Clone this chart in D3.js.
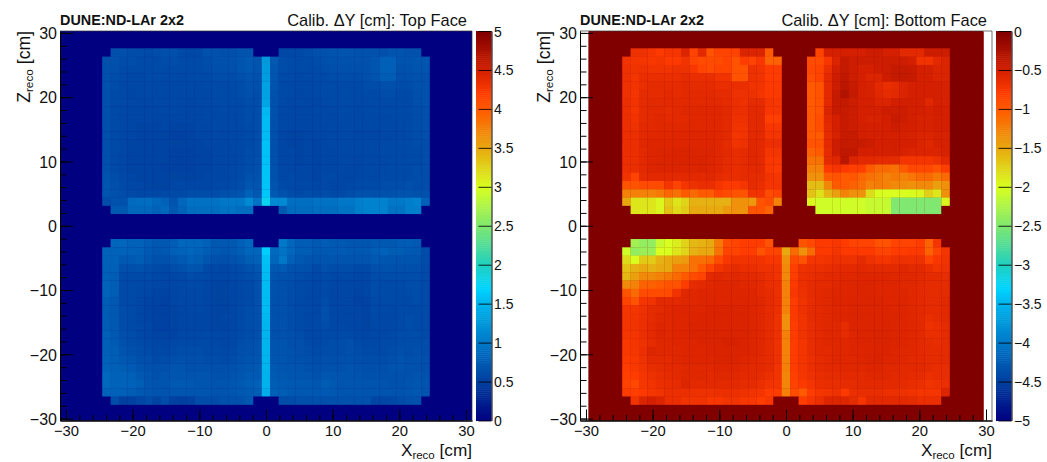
<!DOCTYPE html>
<html><head><meta charset="utf-8">
<script src="https://cdn.jsdelivr.net/npm/d3@7"></script>
<style>html,body{margin:0;padding:0;background:#fff}svg{display:block}text{font-family:"Liberation Sans",Arial,sans-serif;fill:#111}</style>
</head><body><svg id="c" width="1047" height="462"></svg>
<script>
// Cell values in 0.01 cm. Each row: columns 4..42 of the 47 x bins (0 = empty bin). Rows run from high Z to low Z.
const topFaceUpperRows = [
[0,64,64,62,62,60,62,64,64,60,58,60,66,66,64,64,68,68,0,0,0,58,58,60,62,64,66,68,68,68,66,66,66,64,68,68,66,66,0],
[66,66,62,62,60,60,60,62,62,60,60,60,62,66,66,66,68,72,68,128,72,62,60,60,60,62,64,66,66,66,66,66,70,78,78,68,68,70,70],
[66,64,60,60,60,60,60,60,60,60,60,60,62,64,64,64,68,72,68,130,70,62,60,60,60,60,62,64,64,64,64,66,70,78,78,66,66,68,68],
[66,62,60,58,58,60,60,60,60,58,60,60,60,62,62,62,64,68,66,132,70,60,60,58,60,60,60,62,62,62,62,64,68,76,76,64,64,66,66],
[66,62,58,58,58,58,58,58,58,58,58,58,60,60,60,60,62,66,64,135,68,60,58,58,58,58,60,60,60,60,60,62,62,64,64,62,62,66,66],
[66,60,58,56,58,58,58,58,58,58,58,58,58,60,60,60,62,64,62,135,66,60,58,56,58,58,60,60,60,60,60,60,60,62,62,60,60,64,66],
[66,60,58,56,56,56,58,58,58,58,56,58,58,60,60,60,60,62,62,138,66,60,56,58,56,56,58,60,60,60,60,60,60,60,60,60,60,64,66],
[66,60,58,56,56,56,56,58,58,56,56,56,58,58,60,58,60,62,62,152,66,58,56,56,56,58,58,58,60,60,58,60,60,60,60,60,60,62,64],
[66,60,56,56,56,56,56,56,56,56,56,56,58,58,58,58,60,62,62,155,64,58,56,56,56,56,58,58,60,58,58,58,58,58,58,60,60,62,64],
[66,60,56,56,54,54,54,56,54,54,54,56,56,58,58,58,58,60,62,155,64,58,56,56,56,56,56,58,58,58,58,58,58,58,58,58,60,62,64],
[64,60,56,56,54,54,54,54,52,52,54,56,56,58,56,58,58,60,62,155,64,56,54,54,56,56,56,58,58,58,56,56,56,58,58,58,60,62,64],
[64,60,56,54,54,54,54,54,54,54,54,54,56,56,56,58,58,60,62,158,64,56,54,54,56,54,56,58,58,58,58,58,58,58,60,60,60,62,62],
[64,60,56,54,54,54,54,54,52,52,52,54,54,56,56,56,58,62,62,158,64,56,56,54,56,54,56,56,58,58,58,58,58,60,60,60,60,60,62],
[66,60,56,54,54,54,54,54,52,52,52,54,54,56,56,56,58,62,64,158,64,56,56,54,56,54,56,56,58,58,56,58,58,58,60,60,60,60,62],
[66,60,56,54,54,54,54,52,52,52,52,54,54,56,56,58,60,62,64,160,66,58,56,56,56,54,56,56,58,56,56,58,58,58,60,60,60,62,62],
[68,62,58,56,54,54,54,54,54,54,54,54,56,56,56,58,60,66,66,160,66,58,58,56,56,54,58,58,56,56,58,58,58,60,60,60,60,62,62],
[70,64,60,58,56,54,54,54,56,58,56,56,56,58,58,60,62,70,68,160,68,60,58,58,58,56,58,56,56,58,60,60,60,62,62,62,64,62,62],
[70,66,62,60,58,58,58,60,60,60,62,62,62,62,64,66,68,80,72,162,72,66,62,60,62,60,62,60,60,62,66,66,64,66,66,68,68,66,66],
[62,66,66,88,90,90,85,80,68,85,95,95,95,95,100,100,100,115,95,178,115,115,92,92,92,95,95,95,100,100,106,108,108,108,100,100,105,108,80],
[0,72,72,85,85,85,80,85,72,80,90,90,90,90,95,95,90,90,0,0,0,72,88,88,88,90,90,90,95,95,105,108,108,108,95,95,105,105,0]
];
const topFaceLowerRows = [
[0,84,85,80,80,75,72,72,75,85,85,85,80,72,72,72,78,85,0,0,0,100,85,75,75,72,75,72,72,70,70,70,72,72,72,75,75,72,0],
[82,82,82,80,78,74,70,72,78,82,84,82,76,72,70,72,76,84,84,166,88,95,85,76,76,72,72,74,74,72,72,72,76,80,76,76,74,72,62],
[80,80,72,74,76,70,66,66,70,74,78,76,70,66,64,66,70,76,80,158,84,100,78,72,68,68,68,70,68,68,68,68,72,70,70,68,68,68,62],
[78,78,64,64,66,62,60,58,62,66,70,68,60,58,56,60,62,66,70,156,72,74,66,66,64,60,64,62,62,62,60,60,64,66,66,64,64,64,60],
[78,76,60,60,60,60,58,56,56,58,62,60,58,56,56,58,60,62,66,155,68,66,64,62,60,58,60,58,58,58,56,56,62,62,62,62,62,62,60],
[82,76,60,60,58,58,56,56,56,58,60,58,56,54,54,56,58,60,64,155,66,64,62,60,58,56,60,56,56,56,56,56,62,60,60,60,62,62,60],
[82,76,60,60,58,56,54,54,56,58,58,58,56,54,54,56,58,60,64,155,66,66,62,60,58,56,60,56,56,56,54,56,62,60,60,60,60,62,60],
[76,72,60,60,56,54,54,52,56,58,58,58,56,54,54,56,58,60,64,155,66,66,62,60,58,56,62,56,56,56,54,54,60,60,60,60,60,62,60],
[76,72,62,60,56,54,52,52,54,56,58,58,56,54,54,56,60,62,64,155,66,66,62,60,58,56,64,58,56,56,56,54,60,60,58,60,60,60,60],
[76,72,62,60,56,54,52,52,54,56,56,56,56,54,56,56,60,62,64,152,66,66,62,60,58,58,64,58,56,56,56,54,60,58,58,60,62,60,60],
[76,72,62,60,58,56,52,52,54,56,56,56,56,54,54,56,60,62,64,150,66,66,62,60,58,58,62,58,58,56,56,54,58,58,58,60,62,60,60],
[78,72,64,62,58,56,54,54,54,58,58,58,60,58,56,58,60,62,64,150,66,66,64,62,58,58,60,60,60,60,58,56,58,58,60,62,62,62,60],
[78,74,66,62,60,58,56,56,58,60,60,60,60,58,56,58,62,64,66,150,68,68,64,64,60,58,60,62,62,64,60,58,58,60,60,62,62,62,62],
[78,76,68,66,62,60,58,58,60,62,62,62,60,60,58,60,64,66,68,150,68,68,66,64,62,60,62,62,62,64,62,60,60,60,62,64,62,64,62],
[80,76,72,70,64,64,60,62,64,66,64,64,62,62,60,62,66,68,70,150,70,70,66,66,64,62,64,64,64,66,64,62,62,62,64,68,64,66,64],
[82,78,76,74,68,66,64,66,68,68,66,66,66,64,64,66,68,70,72,150,72,70,68,68,66,64,66,66,66,68,66,64,64,64,68,68,66,66,64],
[86,80,80,78,72,68,66,68,70,70,68,68,68,66,66,68,70,74,74,148,74,72,70,70,68,66,70,70,68,68,68,66,66,66,66,66,66,68,66],
[86,82,82,82,76,70,68,68,72,72,72,70,70,68,68,70,72,76,78,148,76,74,72,72,72,70,76,72,68,70,70,68,68,68,66,66,68,70,68],
[82,80,78,76,72,70,68,68,70,70,70,70,70,68,68,70,72,74,76,146,78,76,72,72,72,72,74,72,70,70,70,68,68,68,68,68,70,72,68],
[0,62,50,52,56,62,54,62,52,50,52,62,62,62,66,66,66,72,0,0,0,62,62,64,64,64,64,66,66,66,66,66,56,56,58,62,64,66,0]
];
const bottomFaceUpperRows = [
[0,68,68,72,78,72,72,55,85,60,95,85,85,85,55,55,55,100,0,0,0,0,0,85,50,50,50,50,50,45,45,50,50,60,60,60,45,45,45,0],
[70,72,72,75,72,78,78,70,85,90,90,90,85,95,80,85,75,105,105,0,0,0,90,90,75,55,40,45,45,45,45,45,45,45,50,70,70,60,55],
[68,70,68,70,70,70,68,68,75,85,90,85,85,95,95,68,70,80,80,0,0,0,88,85,65,48,40,45,50,50,45,45,40,40,42,50,50,55,55],
[68,72,65,65,65,65,65,62,65,65,65,70,70,95,95,68,70,80,80,0,0,0,92,85,60,45,38,45,50,55,55,45,40,40,42,50,50,55,55],
[68,70,65,62,62,62,62,60,62,62,62,65,65,65,65,70,70,78,78,0,0,0,100,95,60,45,35,42,50,52,60,65,62,55,50,50,50,50,52],
[68,72,62,62,62,60,62,60,60,60,60,62,62,68,68,68,72,78,78,0,0,0,100,95,60,42,30,40,50,52,58,62,60,55,50,50,50,50,52],
[66,70,62,60,60,60,60,60,60,60,60,60,62,66,68,62,62,72,75,0,0,0,100,95,60,42,40,45,50,50,55,55,48,48,48,50,58,50,52],
[66,72,62,60,60,62,60,58,58,58,58,58,60,66,66,60,60,75,75,0,0,0,100,95,55,42,42,45,50,50,50,45,45,45,48,48,52,48,50],
[66,70,62,60,58,60,60,60,58,58,58,58,60,68,68,60,60,82,82,0,0,0,100,92,58,50,42,45,50,52,52,48,42,45,48,52,52,50,50],
[66,68,60,60,58,58,58,58,58,58,58,58,60,70,70,60,60,75,75,0,0,0,100,92,60,50,42,45,48,50,50,50,45,48,50,52,52,50,50],
[66,66,60,58,58,58,56,56,56,56,56,58,60,72,70,60,60,72,72,0,0,0,100,100,62,52,42,42,48,50,50,50,50,50,52,55,55,52,52],
[66,66,58,56,56,56,56,56,56,56,56,58,62,70,68,58,60,66,66,0,0,0,95,95,60,45,40,42,42,45,50,48,48,50,50,55,58,52,52],
[66,66,60,56,55,55,54,54,55,55,55,58,60,64,62,58,60,72,72,0,0,0,105,100,62,45,38,38,48,50,50,50,48,52,55,55,55,55,52],
[66,66,60,56,55,55,54,54,54,54,56,58,62,64,62,58,60,76,76,0,0,0,115,115,62,58,35,55,60,60,62,62,62,72,72,72,72,68,60],
[66,66,60,56,55,55,55,55,56,54,56,58,62,64,62,60,60,76,78,0,0,0,125,125,78,72,78,82,82,100,110,110,115,100,88,88,88,95,82],
[70,85,62,60,60,60,60,60,60,60,58,62,64,64,62,62,62,70,72,0,0,0,135,135,100,95,100,98,108,115,120,125,120,125,118,110,110,120,110],
[95,95,90,90,90,72,85,72,68,65,65,72,78,78,72,62,65,72,72,0,0,0,162,162,128,100,100,105,112,125,122,125,130,132,135,130,130,145,135],
[125,125,125,125,120,108,115,100,110,100,100,85,90,95,95,70,70,90,85,0,0,0,165,182,158,145,125,135,135,180,198,200,200,200,198,195,172,185,135],
[150,185,185,185,195,170,185,175,155,155,155,155,155,135,135,140,95,90,125,0,0,0,195,205,205,205,205,205,205,210,210,210,250,250,250,250,250,250,195],
[0,185,185,185,195,165,178,170,150,150,150,150,140,135,135,95,95,105,0,0,0,0,0,205,205,205,205,205,205,210,210,210,250,250,250,250,250,250,0]
];
const bottomFaceLowerRows = [
[0,230,240,240,210,200,190,175,160,155,150,120,90,85,80,80,80,95,0,0,0,95,88,78,78,75,80,85,85,85,95,95,85,85,85,80,105,72,0],
[205,240,235,235,200,200,185,175,155,150,150,115,85,85,80,80,95,85,85,150,110,135,110,78,78,72,78,78,78,78,85,85,80,80,78,78,105,85,72],
[180,200,170,170,155,150,145,140,115,115,110,90,75,70,70,70,70,75,75,135,90,95,72,72,70,68,68,68,62,68,72,72,68,68,68,68,85,75,70],
[165,155,150,155,150,150,125,125,115,100,85,70,65,62,65,65,68,68,70,130,82,68,66,66,64,62,60,60,58,60,60,60,60,58,60,60,65,70,68],
[160,145,130,130,125,120,110,100,90,85,60,58,60,58,60,60,62,66,70,130,80,66,64,62,60,60,58,58,56,56,56,56,58,58,58,60,62,62,64],
[130,125,105,105,100,95,95,80,62,60,58,56,56,56,58,58,60,65,66,125,78,66,62,60,60,58,56,56,55,55,56,56,56,58,58,60,62,62,62],
[95,110,90,90,90,90,70,58,58,56,56,56,56,56,56,56,60,62,66,125,75,68,62,60,58,56,56,56,55,55,56,56,56,56,58,60,62,62,62],
[85,95,72,70,60,60,60,58,58,56,56,56,56,56,56,56,58,62,66,125,80,70,64,60,58,56,56,55,55,55,55,56,56,56,58,60,62,62,60],
[72,72,68,62,60,58,56,56,56,56,54,54,54,54,54,56,58,62,66,125,78,68,62,60,58,56,56,55,55,55,55,55,56,56,58,60,62,62,60],
[72,70,66,62,58,58,56,56,56,54,54,54,54,54,54,56,58,62,68,135,78,70,62,60,58,56,56,55,55,55,55,55,55,56,58,60,65,62,60],
[72,70,66,60,56,58,56,56,54,54,54,54,54,54,54,56,58,62,68,135,80,70,64,60,58,58,62,55,55,55,55,54,55,56,58,60,68,65,62],
[74,72,66,60,56,58,56,56,54,54,54,54,54,54,54,56,58,62,68,125,80,70,64,60,58,58,62,56,55,55,54,54,55,56,58,60,65,65,62],
[76,72,68,62,58,58,56,56,56,54,54,54,52,52,54,56,58,62,68,125,80,72,64,60,58,58,58,56,55,55,54,54,55,56,58,60,62,64,62],
[76,74,66,56,58,58,58,56,56,56,54,54,54,54,54,56,58,62,68,125,80,72,64,60,60,58,58,56,56,55,54,54,56,58,58,60,62,62,62],
[78,76,68,60,60,60,58,56,56,56,56,54,54,54,56,58,60,62,68,125,80,72,66,62,60,58,58,58,56,55,54,56,56,58,60,60,62,62,62],
[80,76,70,64,62,60,60,58,58,58,58,56,56,56,58,60,60,62,70,125,80,72,66,62,60,60,58,58,58,56,56,58,58,60,60,60,62,64,64],
[82,80,72,68,64,62,60,58,58,58,60,58,58,58,60,60,62,66,70,128,82,74,68,64,62,62,60,60,60,58,58,58,60,60,62,62,66,64,64],
[84,88,74,70,66,64,62,56,60,60,60,60,60,60,62,62,66,70,72,128,84,78,72,66,64,64,62,62,60,60,60,60,60,62,64,66,70,68,66],
[80,82,78,74,70,66,66,66,68,68,68,66,66,66,68,70,72,80,80,125,90,100,80,74,70,68,78,66,64,64,64,66,66,68,70,72,72,72,56],
[0,70,55,50,55,65,65,70,70,70,75,75,70,70,75,75,80,75,0,0,0,80,72,66,56,56,56,62,72,60,60,60,60,60,62,66,66,66,0]
];
const firstActiveColumn = 4, firstUpperRow = 2, firstLowerRow = 25, binCount = 47;
const axisTicks = [-30,-20,-10,0,10,20,30];
const minorTicks = d3.range(-30,31,2);
const topBarTicks = [0,.5,1,1.5,2,2.5,3,3.5,4,4.5,5];
const bottomBarTicks = [-5,-4.5,-4,-3.5,-3,-2.5,-2,-1.5,-1,-.5,0];
const colorPositions = [0,.1,.2,.3,.34,.4,.5,.6,.7,.8,.84,.9,1];
const colorStops = ["#000080","#003f9f","#0078c8","#00b4ec","#00d4ff","#20d0c0","#80e870","#d8ff20","#e8a810","#ff5a00","#ff3c00","#d42000","#800000"];

const svg = d3.select("#c");
const ramp = d3.scaleLinear().domain(colorPositions).range(colorStops).interpolate(d3.interpolateRgb).clamp(true);
const fmt = v => { const s = String(Math.abs(v)); return (v<0?"\u2212":"")+s; };

function assemble(upper, lower){
  const grid = d3.range(binCount).map(()=>new Array(binCount).fill(0));
  upper.forEach((row,r)=>row.forEach((v,c)=>{grid[firstUpperRow+r][firstActiveColumn+c]=v/100;}));
  lower.forEach((row,r)=>row.forEach((v,c)=>{grid[firstLowerRow+r][firstActiveColumn+c]=v/100;}));
  return grid;
}

function panel(o){
  const g = svg.append("g").attr("transform",`translate(${o.left},0)`);
  const W = 412, T = 31, B = 420.5;
  const x = d3.scaleLinear().domain([-30.9,30.9]).range([0,W]);
  const z = d3.scaleLinear().domain([-30.3,30.3]).range([B,T]);
  const xBin = 1.26, zBin = 1.29, zShift = -0.13, overlap = 0.3;
  const colorOf = d3.scaleLinear().domain(o.domain).range([0,1]);
  const bx0 = o.fullFrame ? 0 : x(-23.5*xBin), bx1 = o.fullFrame ? W : x(23.5*xBin);
  g.append("rect").attr("x",bx0).attr("y",T).attr("width",bx1-bx0).attr("height",B-T).attr("fill",ramp(colorOf(0)));
  const cells = [];
  o.grid.forEach((row,r)=>row.forEach((v,c)=>cells.push({r,c,v:o.sign*v})));
  const top = d=>Math.max(T,z((23.5-d.r)*zBin+zShift));
  const bot = d=>Math.min(B,z((22.5-d.r)*zBin+zShift));
  g.append("g").selectAll("rect").data(cells).join("rect")
    .attr("x",d=>x((d.c-23.5)*xBin))
    .attr("width",x(xBin)-x(0)+(o.fullFrame?overlap:Math.min(overlap,0.2)))
    .attr("y",top)
    .attr("height",d=>Math.min(B,bot(d)+overlap)-top(d))
    .attr("fill",d=>ramp(colorOf(d.v)));

  const axB = g.append("g").attr("transform",`translate(0,${B})`)
    .call(d3.axisBottom(x).tickValues(axisTicks).tickSizeInner(-11).tickSizeOuter(0).tickFormat(fmt));
  const axBm = g.append("g").attr("transform",`translate(0,${B})`)
    .call(d3.axisBottom(x).tickValues(minorTicks).tickSizeInner(-5.5).tickSizeOuter(0).tickFormat(""));
  const axL = g.append("g")
    .call(d3.axisLeft(z).tickValues(axisTicks).tickSizeInner(-13).tickSizeOuter(0).tickFormat(fmt));
  const axLm = g.append("g")
    .call(d3.axisLeft(z).tickValues(minorTicks).tickSizeInner(-6.5).tickSizeOuter(0).tickFormat(""));
  [axB,axBm,axL,axLm].forEach(a=>{a.selectAll("path").attr("stroke","#000").attr("stroke-width",1);a.selectAll("line").attr("stroke","#000").attr("stroke-width",1);});
  axB.selectAll("text").attr("font-size",14.8).attr("dy",0).attr("y",15.5).attr("font-family","Liberation Sans");
  axL.selectAll("text").attr("font-size",16).attr("dy","0.36em").attr("x",-3).attr("font-family","Liberation Sans");
  g.append("path").attr("d",`M0,${T}H${W}V${B}`).attr("fill","none").attr("stroke","#333").attr("stroke-width",.7);

  g.append("text").attr("x",0).attr("y",24.5).attr("font-size",14.4).attr("font-weight","bold").text("DUNE:ND-LAr 2x2");
  g.append("text").attr("x",W-5).attr("y",26).attr("text-anchor","end").attr("font-size",16.4).text(o.title);
  const xt = g.append("text").attr("x",W).attr("y",456).attr("text-anchor","end").attr("font-size",17.2);
  xt.append("tspan").text("X");
  xt.append("tspan").attr("font-size",11.5).attr("dy",3).text("reco");
  xt.append("tspan").attr("dy",-3).text(" [cm]");
  const yt = g.append("text").attr("transform",`translate(-30,${T}) rotate(-90)`).attr("text-anchor","end").attr("font-size",17.6);
  yt.append("tspan").text("Z");
  yt.append("tspan").attr("font-size",11.8).attr("dy",3).text("reco");
  yt.append("tspan").attr("dy",-3).text(" [cm]");

  // colour bar
  const barX = W+4, barW = 15.5;
  const c = d3.scaleLinear().domain(o.domain).range([B,T]);
  const levels = d3.range(0,1,1/200);
  const bar = g.append("g");
  bar.selectAll("rect").data(levels).join("rect")
    .attr("x",barX).attr("width",barW)
    .attr("y",d=>B-(d+1/200)*(B-T)).attr("height",(B-T)/200+.5)
    .attr("fill",d=>ramp(d+1/400));
  const axC = g.append("g").attr("transform",`translate(${barX+barW},0)`)
    .call(d3.axisRight(c).tickValues(o.barTicks).tickSizeInner(-13).tickSizeOuter(0).tickFormat(fmt));
  axC.selectAll("path").attr("stroke","#000");
  axC.selectAll("line").attr("stroke","#000").attr("stroke-opacity",.85);
  axC.selectAll("text").attr("font-size",14).attr("x",2.5).attr("dy","0.36em").attr("font-family","Liberation Sans");
}

panel({left:60,title:"Calib. \u0394Y [cm]: Top Face",fullFrame:true,sign:1,domain:[0,5],barTicks:topBarTicks,grid:assemble(topFaceUpperRows,topFaceLowerRows)});
panel({left:580,title:"Calib. \u0394Y [cm]: Bottom Face",fullFrame:false,sign:-1,domain:[-5,0],barTicks:bottomBarTicks,grid:assemble(bottomFaceUpperRows,bottomFaceLowerRows)});
</script></body></html>
